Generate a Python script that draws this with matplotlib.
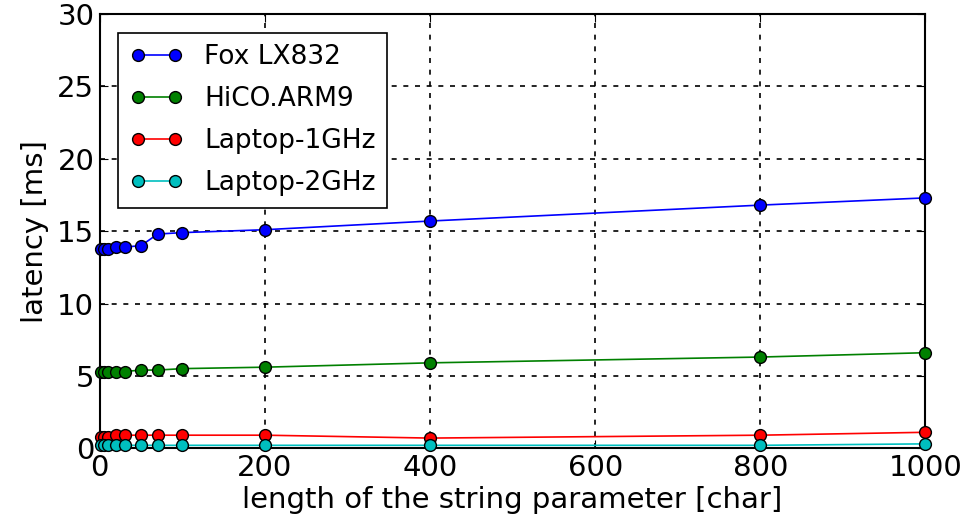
import matplotlib
matplotlib.use("Agg")
import matplotlib.pyplot as plt

# string length [char]
lengths = [1, 5, 10, 20, 30, 50, 70, 100, 200, 400, 800, 1000]

# latency [ms] per platform
fox_lx832 = [13.8, 13.8, 13.8, 13.9, 13.9, 14.0, 14.8, 14.9, 15.1, 15.7, 16.8, 17.3]
hico_arm9 = [5.3, 5.3, 5.3, 5.3, 5.3, 5.4, 5.4, 5.5, 5.6, 5.9, 6.3, 6.6]
laptop_1ghz = [0.8, 0.8, 0.8, 0.9, 0.9, 0.9, 0.9, 0.9, 0.9, 0.7, 0.9, 1.1]
laptop_2ghz = [0.2, 0.2, 0.2, 0.2, 0.2, 0.2, 0.2, 0.2, 0.2, 0.2, 0.2, 0.3]

series = [
    ("Fox LX832", fox_lx832, "b"),
    ("HiCO.ARM9", hico_arm9, "g"),
    ("Laptop-1GHz", laptop_1ghz, "r"),
    ("Laptop-2GHz", laptop_2ghz, "c"),
]

fig = plt.figure(figsize=(9.69, 5.23), dpi=100)
ax = fig.add_axes([0.103, 0.143, 0.852, 0.830])

for name, vals, col in series:
    ax.plot(lengths, vals, color=col, marker="o", markersize=8.5,
            markeredgecolor="k", markeredgewidth=1.0, lw=1.2, label=name,
            clip_on=False, zorder=3)

ax.set_xlim(0, 1000)
ax.set_ylim(0, 30)
ax.set_xticks([0, 200, 400, 600, 800, 1000])
ax.set_yticks([0, 5, 10, 15, 20, 25, 30])
ax.grid(True, color="k", linestyle=(0, (3, 4)), linewidth=1.2)
ax.tick_params(direction="in", length=6, labelsize=21, top=True, right=True, pad=4)
for s in ax.spines.values():
    s.set_linewidth(1.5)

ax.set_xlabel("length of the string parameter [char]", fontsize=21, labelpad=3)
ax.set_ylabel("latency [ms]", fontsize=21, labelpad=6)

leg = ax.legend(loc="upper left", numpoints=2, fontsize=19, fancybox=False,
                framealpha=1, edgecolor="k", borderaxespad=0.7,
                handlelength=2.0, labelspacing=0.6, borderpad=0.45)
leg.get_frame().set_linewidth(1.2)

fig.savefig("out.png", dpi=100)
